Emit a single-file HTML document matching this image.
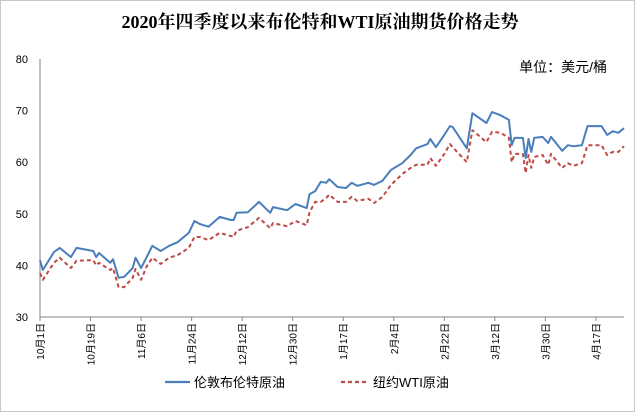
<!DOCTYPE html>
<html><head><meta charset="utf-8"><style>
body{margin:0;background:#fff;}
#wrap{position:relative;width:640px;height:417px;overflow:hidden;background:#fff;}
</style></head><body>
<div id="wrap">
<svg id="chart" width="640" height="417" xmlns="http://www.w3.org/2000/svg">
<rect x="0.5" y="0.5" width="634" height="411" fill="#fff" stroke="#c8c8c8"/>
<text x="320" y="28" text-anchor="middle" font-family="'Liberation Serif','Noto Serif CJK SC',serif" font-size="18" font-weight="bold" fill="#000">2020年四季度以来布伦特和WTI原油期货价格走势</text>
<text x="607" y="72" text-anchor="end" font-family="'Liberation Sans','Noto Sans CJK SC',sans-serif" font-size="14" fill="#000">单位：美元/桶</text>
<g id="axes"></g>
<g id="series"></g>
<g>
<line x1="165" y1="382" x2="190" y2="382" stroke="#4a7ebb" stroke-width="2.2"/>
<text x="194" y="387" font-family="'Liberation Sans','Noto Sans CJK SC',sans-serif" font-size="13" fill="#000">伦敦布伦特原油</text>
<line x1="341" y1="382" x2="368" y2="382" stroke="#be4b48" stroke-width="2.2" stroke-dasharray="4,3"/>
<text x="373" y="387" font-family="'Liberation Sans','Noto Sans CJK SC',sans-serif" font-size="13" fill="#000">纽约WTI原油</text>
</g>
</svg>
</div>
<script>
const days = [0,1,5,7,11,13,19,20,21,25,26,28,30,33,34,36,38,40,43,46,49,53,55,57,60,64,68,69,70,74,78,82,83,88,91,95,96,98,100,102,103,106,109,111,113,117,119,122,125,129,132,134,138,139,141,144,146,147,152,154,159,161,164,167,168,169,172,173,174,175,176,179,181,182,186,188,190,193,195,200,202,204,206,208];
const brent = [41.0,39.1,42.6,43.4,41.6,43.4,42.8,41.6,42.4,40.5,41.2,37.6,37.8,39.5,41.5,39.5,41.6,43.8,42.8,43.8,44.5,46.3,48.6,48.0,47.5,49.4,48.8,48.8,50.2,50.3,52.3,50.2,51.3,50.7,51.9,51.1,53.8,54.4,56.2,56.0,56.7,55.2,55.0,56.0,55.4,56.0,55.6,56.4,58.5,59.8,61.4,62.7,63.5,64.5,62.9,65.3,67.0,66.8,62.7,69.5,67.6,69.7,69.1,68.2,63.3,64.7,64.7,60.8,64.5,62.0,64.7,64.9,63.7,64.9,62.2,63.3,63.1,63.3,67.0,67.0,65.3,66.0,65.7,66.6];
const wti = [38.5,37.2,40.5,41.5,39.5,40.9,41.0,40.0,40.5,39.1,39.5,35.8,35.8,37.6,39.3,37.2,39.8,41.5,40.3,41.5,42.0,43.4,45.5,45.5,44.9,46.3,45.7,45.5,46.7,47.4,49.2,47.2,48.2,47.6,48.6,47.8,50.3,52.3,52.3,53.1,53.7,52.3,52.3,53.3,52.5,52.9,52.1,53.3,55.6,57.7,58.9,59.5,59.5,60.8,59.3,61.6,63.5,62.9,60.0,66.2,63.9,65.9,65.7,64.7,60.0,61.6,61.6,57.9,61.4,58.9,61.0,61.4,59.5,61.6,58.9,59.8,59.3,59.8,63.3,63.3,61.4,62.0,62.0,63.1];
const yTicks = [30,40,50,60,70,80];
const xTickDays = [0,18,36,54,72,90,108,126,144,162,180,198];
const xTickLabels = ["10月1日","10月19日","11月6日","11月24日","12月12日","12月30日","1月17日","2月4日","2月22日","3月12日","3月30日","4月17日"];

const NS="http://www.w3.org/2000/svg";
const X0=40, X1=624, Y0=317, Y1=59, DMAX=208, VMIN=30, VMAX=80;
function xs(d){return X0+(d/DMAX)*(X1-X0);}
function ys(v){return Y0-(v-VMIN)/(VMAX-VMIN)*(Y0-Y1);}
function mk(tag,attrs){const e=document.createElementNS(NS,tag);for(const k in attrs)e.setAttribute(k,attrs[k]);return e;}
const axes=document.getElementById('axes'), ser=document.getElementById('series');
const yAxis=mk('line',{x1:X0,y1:Y1,x2:X0,y2:Y0,stroke:'#868686','stroke-width':1});


axes.appendChild(yAxis);
const xAxis=mk('line',{x1:X0,y1:Y0,x2:X1,y2:Y0,stroke:'#868686','stroke-width':1});


axes.appendChild(xAxis);
yTicks.forEach(v=>{
  const t=mk('text',{x:X0-12,y:ys(v)+4,'text-anchor':'end','font-family':'Liberation Sans, sans-serif','font-size':11,fill:'#000'});
  t.textContent=v;
  
  
  axes.appendChild(t);
});
xTickDays.forEach((d,i)=>{
  const x=xs(d);
  const tk=mk('line',{x1:x,y1:Y0,x2:x,y2:Y0+4,stroke:'#868686'});
  
  
  axes.appendChild(tk);
  const t=mk('text',{x:0,y:0,'text-anchor':'end','font-family':"Liberation Sans, 'Noto Sans CJK SC', sans-serif",'font-size':10,fill:'#000',transform:`translate(${x+4},${Y0+6}) rotate(-90)`});
  t.textContent=xTickLabels[i];
  
  
  axes.appendChild(t);
});
function path(vals){return vals.map((v,i)=>(i?'L':'M')+xs(days[i]).toFixed(1)+','+ys(v).toFixed(1)).join('');}
const pw=mk('path',{d:path(wti),fill:'none',stroke:'#be4b48','stroke-width':2,'stroke-dasharray':'4,3','stroke-linejoin':'round'});


ser.appendChild(pw);
const pb=mk('path',{d:path(brent),fill:'none',stroke:'#4a7ebb','stroke-width':2,'stroke-linejoin':'round'});


ser.appendChild(pb);
</script>
</body></html>
